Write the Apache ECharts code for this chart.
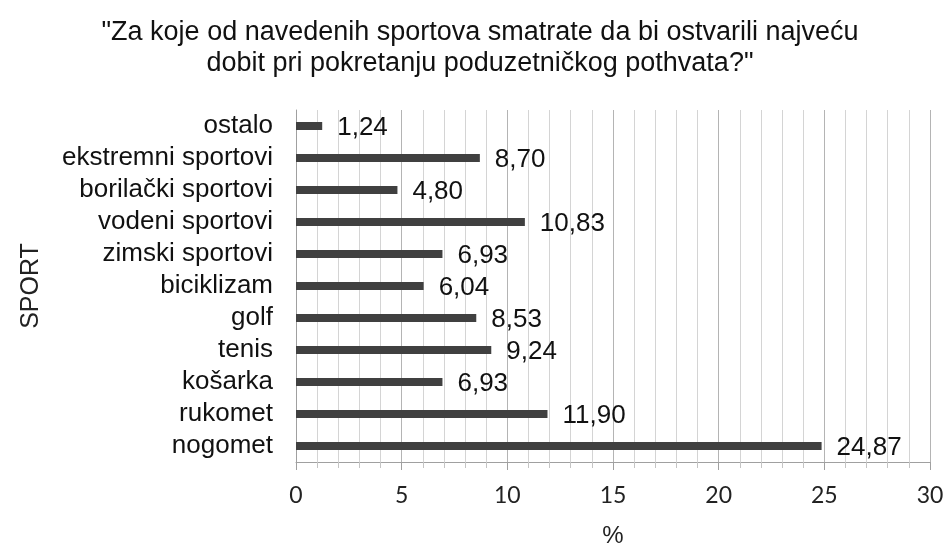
<!DOCTYPE html>
<html>
<head>
<meta charset="utf-8">
<script src="https://cdn.jsdelivr.net/npm/echarts@6/dist/echarts.min.js"></script>
<style>
  html, body { margin: 0; padding: 0; background: #fff; }
  #main { width: 948px; height: 553px; }
</style>
</head>
<body>
<div id="main"></div>
<script>
// sportovi, odozgo prema dolje
var sports = ['ostalo', 'ekstremni sportovi', 'borilački sportovi', 'vodeni sportovi', 'zimski sportovi',
  'biciklizam', 'golf', 'tenis', 'košarka', 'rukomet', 'nogomet'];
var percents = [1.24, 8.70, 4.80, 10.83, 6.93, 6.04, 8.53, 9.24, 6.93, 11.90, 24.87];
var xTicks = [0, 5, 10, 15, 20, 25, 30];

var chart = echarts.init(document.getElementById('main'), null, { renderer: 'canvas' });

var option = {
  animation: false,
  backgroundColor: '#fff',
  title: {
    text: '"Za koje od navedenih sportova smatrate da bi ostvarili najveću\ndobit pri pokretanju poduzetničkog pothvata?"',
    left: 475,
    top: 12,
    textAlign: 'center',
    textStyle: {
      fontFamily: 'Liberation Sans',
      fontWeight: 'normal',
      fontSize: 27,
      lineHeight: 31,
      color: '#111'
    }
  },
  grid: { left: 296, right: 18, top: 110, bottom: 87, containLabel: false },
  xAxis: {
    type: 'value',
    min: xTicks[0],
    max: xTicks[xTicks.length - 1],
    interval: 5,
    name: '%',
    nameLocation: 'middle',
    nameGap: 62,
    nameTextStyle: { fontFamily: 'Liberation Sans', fontSize: 24, color: '#222' },
    axisLine: { show: true, lineStyle: { color: '#a0a0a0', width: 1 } },
    axisTick: { show: true, length: 8, lineStyle: { color: '#a0a0a0' } },
    minorTick: { show: true, splitNumber: 5, length: 6, lineStyle: { color: '#c4c4c4' } },
    axisLabel: {
      margin: 22,
      fontFamily: 'Lato',
      fontSize: 23,
      color: '#222',
      formatter: function (v) { return xTicks.indexOf(v) >= 0 ? String(v) : ''; }
    },
    splitLine: { show: true, lineStyle: { color: '#b4b4b4', width: 1 } },
    minorSplitLine: { show: true, lineStyle: { color: '#d4d4d4', width: 1 } }
  },
  yAxis: {
    type: 'category',
    data: sports,
    inverse: true,
    name: 'SPORT',
    nameLocation: 'middle',
    nameGap: 252,
    nameRotate: 90,
    nameTextStyle: { fontFamily: 'Liberation Sans', fontSize: 25, color: '#222' },
    axisLine: { show: true, lineStyle: { color: '#a0a0a0', width: 1 } },
    axisTick: { show: false },
    axisLabel: {
      interval: 0,
      margin: 23,
      fontFamily: 'Liberation Sans',
      fontSize: 26,
      color: '#111'
    },
    splitLine: { show: false }
  },
  series: [
    {
      type: 'bar',
      data: percents,
      barWidth: 8,
      itemStyle: { color: '#404040' },
      label: {
        show: true,
        position: 'right',
        distance: 15,
        offset: [0, 2],
        fontFamily: 'Liberation Sans',
        fontSize: 26,
        color: '#111',
        formatter: function (p) { return p.value.toFixed(2).replace('.', ','); }
      },
      silent: true
    }
  ]
};

chart.setOption(option);
</script>
</body>
</html>
